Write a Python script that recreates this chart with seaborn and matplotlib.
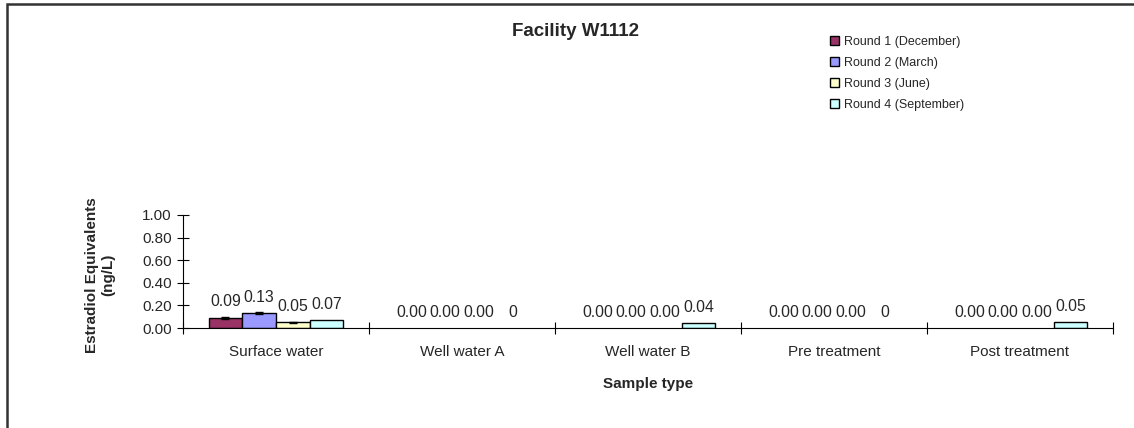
import matplotlib
matplotlib.use("Agg")
import matplotlib.pyplot as plt
import matplotlib.patches as mpatches
import seaborn as sns
import pandas as pd
import numpy as np

sample_types = ["Surface water", "Well water A", "Well water B", "Pre treatment", "Post treatment"]
rounds = ["Round 1 (December)", "Round 2 (March)", "Round 3 (June)", "Round 4 (September)"]

round1 = [0.09, 0.0, 0.0, 0.0, 0.0]
round2 = [0.13, 0.0, 0.0, 0.0, 0.0]
round3 = [0.05, 0.0, 0.0, 0.0, 0.0]
round4 = [0.07, 0.0, 0.04, 0.0, 0.05]

err1 = [0.010, 0, 0, 0, 0]
err2 = [0.010, 0, 0, 0, 0]
err3 = [0.003, 0, 0, 0, 0]
err4 = [0.0, 0, 0, 0, 0]

labels1 = ["0.09", "0.00", "0.00", "0.00", "0.00"]
labels2 = ["0.13", "0.00", "0.00", "0.00", "0.00"]
labels3 = ["0.05", "0.00", "0.00", "0.00", "0.00"]
labels4 = ["0.07", "0", "0.04", "0", "0.05"]

colors = ["#993366", "#9999FF", "#FFFFCC", "#CCFFFF"]

values = [round1, round2, round3, round4]
errors = [err1, err2, err3, err4]
labels = [labels1, labels2, labels3, labels4]

df = pd.DataFrame({
    "sample": np.tile(sample_types, len(rounds)),
    "round": np.repeat(rounds, len(sample_types)),
    "value": np.concatenate(values),
})

sns.set_style("white")
plt.rcParams["font.family"] = ["Liberation Sans", "DejaVu Sans"]

fig = plt.figure(figsize=(11.34, 4.28), dpi=100)
ax = fig.add_axes([183 / 1134, 1 - 328 / 428, 930 / 1134, 113 / 428])

sns.barplot(data=df, x="sample", y="value", hue="round", order=sample_types,
            hue_order=rounds, palette=colors, width=0.725, errorbar=None,
            edgecolor="black", linewidth=1, saturation=1, ax=ax, legend=True)

# error bars + value labels
bar_conts = list(ax.containers)
for i, cont in enumerate(bar_conts):
    for p, e in zip(cont.patches, errors[i]):
        if p.get_height() == 0:
            p.set_linewidth(0)
        if e > 0:
            ax.errorbar(p.get_x() + p.get_width() / 2, p.get_height(), yerr=e,
                        color="black", capsize=3, lw=1, capthick=1)
    ax.bar_label(cont, labels=labels[i], padding=6, fontsize=11.3)

ax.set_ylim(0, 1.0)
ax.set_xlim(-0.5, len(sample_types) - 0.5)
ax.set_yticks([0, 0.2, 0.4, 0.6, 0.8, 1.0])
ax.set_yticklabels([f"{t:.2f}" for t in [0, 0.2, 0.4, 0.6, 0.8, 1.0]], fontsize=11)
ax.set_xticks(np.arange(-0.5, len(sample_types)), labels=[""] * (len(sample_types) + 1))
ax.set_xticks(np.arange(len(sample_types)), labels=sample_types, minor=True, fontsize=11)
ax.tick_params(axis="x", which="minor", length=0, pad=12)
ax.tick_params(axis="both", which="major", direction="inout", length=8, width=0.8,
               color="black", left=True, bottom=True)
ax.tick_params(axis="y", pad=4)

for s in ["top", "right"]:
    ax.spines[s].set_visible(False)
for s in ["left", "bottom"]:
    ax.spines[s].set_color("black")
    ax.spines[s].set_linewidth(0.8)

ax.set_xlabel("Sample type", fontsize=11, fontweight="bold", labelpad=13)
ax.set_ylabel("Estradiol Equivalents\n(ng/L)", fontsize=11, fontweight="bold")
ax.yaxis.set_label_coords(-0.073, 0.47)

fig.text(576 / 1134, 1 - 32 / 428, "Facility W1112", ha="center", va="center",
         fontsize=13.5, fontweight="bold")

handles, lbls = ax.get_legend_handles_labels()
ax.get_legend().remove()
fig.legend(handles, lbls, loc="upper left", bbox_to_anchor=(830 / 1134, 1 - 36 / 428),
           frameon=False, fontsize=9, handlelength=0.75, handleheight=0.75,
           handletextpad=0.4, labelspacing=0.72, borderpad=0, borderaxespad=0)

fig.patches.append(mpatches.Rectangle((7 / 1134, -0.2), 1.2, 1.2 - 4 / 428,
                                      transform=fig.transFigure, fill=False,
                                      edgecolor="#333333", linewidth=1.8))

fig.savefig("out.png", dpi=100)
